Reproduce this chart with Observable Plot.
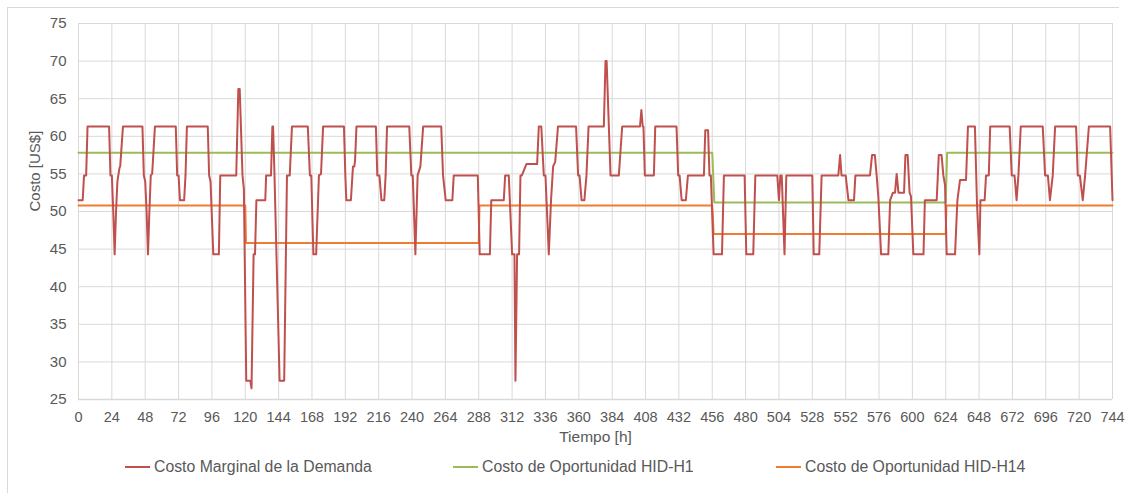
<!DOCTYPE html>
<html>
<head>
<meta charset="utf-8">
<script src="https://cdn.jsdelivr.net/npm/d3@7"></script>
<script src="https://cdn.jsdelivr.net/npm/@observablehq/plot@0.6"></script>
<style>
  html, body { margin: 0; padding: 0; background: #fff; }
  #wrap { position: relative; width: 1128px; height: 493px; overflow: hidden; font-family: "Liberation Sans", Arial, sans-serif; }
  #border { position: absolute; left: 7px; top: 7px; width: 1111px; height: 520px; border-top: 1px solid #d9d9d9; border-left: 1px solid #d9d9d9; }
  #chart { position: absolute; left: 0; top: 0; }
  .leg { position: absolute; top: 457px; height: 20px; display: flex; align-items: center; font-size: 15.8px; color: #595959; white-space: nowrap; }
  .sw { display: inline-block; width: 25px; height: 2px; margin-right: 4px; }
</style>
</head>
<body>
<div id="wrap">
  <div id="border"></div>
  <div id="chart"></div>
  <div id="legend"></div>
</div>
<script>
// ---- Data ----
const xTicks = d3.range(0, 745, 24);
const yTicks = d3.range(25, 76, 5);

const seriesNames = ["Costo Marginal de la Demanda", "Costo de Oportunidad HID-H1", "Costo de Oportunidad HID-H14"];
const seriesColors = ["#c0504d", "#9bbb59", "#ed7d31"];

// Costo Marginal de la Demanda (vertices of the hourly line)
const redHours = [0,3,4,5.5,6.5,22,23,24,25,26,27,28,29.5,30,32,46,47,48,49,50,51,52,53,55,70,71,72,73,76,77,78,93,94,95,97,101,102,113.5,115,116,118,119,120.7,123.6,124.5,126,127,128,134.4,135,138.5,139.5,140,141,144.7,148,150,152,153.6,165,166.5,167.5,169,171,173,174.5,176,191,192,192.7,196,197.5,198.5,199,200,214,215,216.5,218,220,221,222,238,239.5,240.5,242.4,244,246,248,261,262.3,264.2,269,270,287.3,288.7,296,297,306,307,309.6,312,313.7,314.4,315.6,317,318,319,322.3,330,331.2,333,334.8,336,338.4,340,341.5,343,345,358,359.5,360.5,362,364,365.5,367,378,379.2,380,382.8,388.8,391.2,404,405,406,406.5,407.5,414,415,430.3,431.5,432.5,434,437,438.5,450,451,453,454,455,457,463,464.4,479.3,480.5,485.5,487,502.8,504,505,506,508,509.3,528,529,533,534.7,546.7,548,549,552,554,558,559,569.5,571,573,574.3,575.5,577.5,582.7,584,586,587.5,588.7,590,594,595,596.6,598,599,600.7,608,609,617.5,619,621,622.3,623.5,624.7,630.7,632.4,634.3,638.6,640,645,646.5,648.2,649,652,653,655,656,670,671.5,673.5,675,676.3,678,693.8,695.5,697.5,699,701,702.7,717.8,719,720.5,722.6,724.3,727,742.3,744];
const redCost = [51.5,51.5,54.8,54.8,61.3,61.3,54.8,54.8,50,44.3,50,54,55.8,56,61.3,61.3,54.8,54,50,44.3,50,54.8,55,61.3,61.3,54.8,54.8,51.5,51.5,54.8,61.3,61.3,54.8,54,44.3,44.3,54.8,54.8,66.3,66.3,54.8,53,27.5,27.5,26.5,44.3,44.3,51.5,51.5,54.8,54.8,61.3,61.3,55,27.5,27.5,54.8,54.8,61.3,61.3,54.8,54.8,44.3,44.3,54.8,55,61.3,61.3,54.8,51.5,51.5,56,56,56.8,61.3,61.3,54.8,54.8,51.5,51.5,54.8,61.3,61.3,54.8,54.8,44.3,54.8,56,61.3,61.3,54.8,51.5,51.5,54.8,54.8,44.3,44.3,51.5,51.5,54.8,54.8,44.3,44.3,27.5,44.3,44.3,54.8,54.8,56.3,56.3,61.3,61.3,54.8,54.8,44.3,51.5,56,56.6,61.3,61.3,54.8,54.8,51.5,51.5,54.8,61.3,61.3,70,70,54.8,54.8,61.3,61.3,63.5,61.3,61.3,54.8,54.8,61.3,61.3,54.8,54.8,51.5,51.5,54.8,54.8,60.8,60.8,54.8,54.8,44.3,44.3,54.8,54.8,44.3,44.3,54.8,54.8,51.5,54.8,54.8,44.3,54.8,54.8,44.3,44.3,54.8,54.8,57.5,54.8,54.8,51.5,51.5,54.8,54.8,57.5,57.5,54.8,52,44.3,44.3,51.5,52.5,52.5,55,52.5,52.5,57.5,57.5,52.5,52,44.3,44.3,51.5,51.5,57.5,57.5,54.8,53.5,44.3,44.3,51.5,54.2,54.2,61.3,61.3,51,44.3,51.5,51.5,54.8,54.8,61.3,61.3,54.8,54.8,51.5,54.8,61.3,61.3,54.8,54.8,51.5,54.8,61.3,61.3,54.8,54.8,51.5,54.8,61.3,61.3,51.5];

// Costo de Oportunidad HID-H1
const greenHours = [0,456,457.5,624,625,744];
const greenCost  = [57.8,57.8,51.2,51.2,57.8,57.8];

// Costo de Oportunidad HID-H14
const orangeHours = [0,120,120.5,288,288.5,456,457,624,624.5,744];
const orangeCost  = [50.8,50.8,45.8,45.8,50.8,50.8,47.0,47.0,50.8,50.8];

// ---- Build rows ----
const toRows = (hours, vals, s) => hours.map((h, i) => ({h, v: vals[i], s}));
const rows = [
  ...toRows(greenHours, greenCost, seriesNames[1]),
  ...toRows(orangeHours, orangeCost, seriesNames[2]),
  ...toRows(redHours, redCost, seriesNames[0])
];

const textColor = "#595959";
const gridColor = "#d9d9d9";

const chart = Plot.plot({
  width: 1128,
  height: 448,
  marginTop: 23,
  marginBottom: 49,
  marginLeft: 78,
  marginRight: 16,
  style: { fontFamily: '"Liberation Sans", Arial, sans-serif', fontSize: "15px", color: textColor, background: "transparent", overflow: "visible" },
  x: { domain: [0, 744] },
  y: { domain: [25, 75] },
  color: { domain: seriesNames, range: seriesColors },
  marks: [
    Plot.gridX(xTicks, { stroke: gridColor, strokeOpacity: 1, strokeWidth: 1 }),
    Plot.gridY(yTicks, { stroke: gridColor, strokeOpacity: 1, strokeWidth: 1 }),
    Plot.ruleX([0], { stroke: gridColor, strokeWidth: 1 }),
    Plot.ruleY([25], { stroke: gridColor, strokeWidth: 1.5 }),
    Plot.axisX(xTicks, { tickSize: 0, tickPadding: 12, label: null, fill: textColor, fontSize: 14.5 }),
    Plot.axisY(yTicks, { tickSize: 0, tickPadding: 12, label: null, fill: textColor, fontSize: 15 }),
    Plot.line(rows, { x: "h", y: "v", z: "s", stroke: "s", strokeWidth: 2, strokeLinejoin: "round" }),
    Plot.text(["Tiempo [h]"], { frameAnchor: "bottom", dy: 42, fill: textColor, fontSize: 15.5 }),
    Plot.text(["Costo [US$]"], { frameAnchor: "left", dx: -43, rotate: -90, fill: textColor, fontSize: 15 })
  ]
});
document.getElementById("chart").appendChild(chart);

// ---- Legend ----
const legendLeft = [125, 453, 776];
const legend = document.getElementById("legend");
seriesNames.forEach((name, i) => {
  const item = document.createElement("div");
  item.className = "leg";
  item.style.left = legendLeft[i] + "px";
  const sw = document.createElement("span");
  sw.className = "sw";
  sw.style.background = seriesColors[i];
  const t = document.createElement("span");
  t.textContent = name;
  item.appendChild(sw);
  item.appendChild(t);
  legend.appendChild(item);
});
</script>
</body>
</html>
